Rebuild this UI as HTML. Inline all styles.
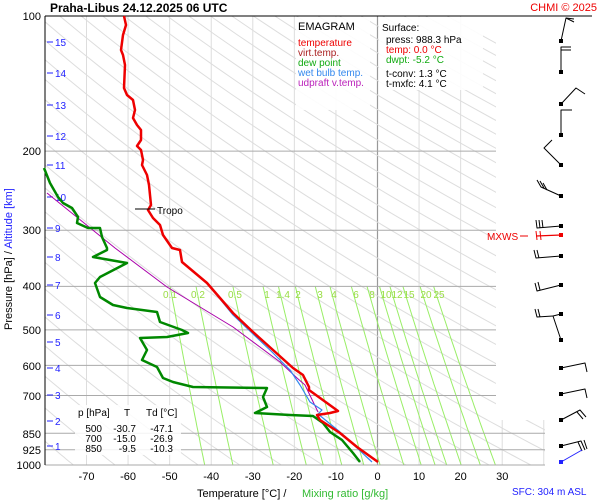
<!DOCTYPE html>
<html><head><meta charset="utf-8"><style>
body{margin:0;background:#fff}
svg{display:block;font-family:"Liberation Sans",sans-serif}
</style></head><body>
<svg id="s" width="600" height="500" viewBox="0 0 600 500" xmlns="http://www.w3.org/2000/svg">
<rect width="600" height="500" fill="#fff"/>
<defs><clipPath id="c"><rect x="45" y="16" width="451" height="449"/><rect x="45" y="420" width="500" height="45"/></clipPath></defs>
<g id="bg" clip-path="url(#c)"></g>
<g id="fg"></g>
</svg>
<script>
const NS="http://www.w3.org/2000/svg";
const bg=document.getElementById('bg'),fg=document.getElementById('fg');
function el(p,t,a,txt){const e=document.createElementNS(NS,t);for(const k in a)e.setAttribute(k,a[k]);if(txt!==undefined)e.textContent=txt;p.appendChild(e);return e;}
const X=T=>377.5+T*4.157, Y=p=>16+Math.log10(p/100)*449;
for(let T=-80;T<=40;T+=10){el(bg,'line',{x1:X(T),y1:16,x2:X(T),y2:465,stroke:T==0?'#999':'#ddd','stroke-width':T==0?1.2:1});}
for(let th=200;th<=560;th+=10){let pts=[];for(let p=100;p<=1000;p+=10){pts.push(X(th*Math.pow(p/1000,0.286)-273.15).toFixed(1)+','+Y(p).toFixed(1));}
el(bg,'polyline',{points:pts.join(' '),fill:'none',stroke:'#ddd','stroke-width':1});}
const ws=[0.1,0.2,0.5,1,1.4,2,3,4,6,8,10,12,15,20,25];
ws.forEach(w=>{let pts=[];for(let p=400;p<=1000;p+=20){let e=w*p/(622+w),l=Math.log(e/6.112);let Td=243.5*l/(17.67-l);pts.push(X(Td).toFixed(1)+','+Y(p).toFixed(1));}
el(bg,'polyline',{points:pts.join(' '),fill:'none',stroke:'#9e6','stroke-width':1});});
[200,300,400,500,600,700].forEach(p=>el(fg,'line',{x1:45,y1:Y(p),x2:496,y2:Y(p),stroke:'#aaa'}));
[850,925,1000].forEach(p=>el(fg,'line',{x1:45,y1:Y(p),x2:545,y2:Y(p),stroke:'#aaa'}));
el(fg,'line',{x1:45,y1:16,x2:592,y2:16,stroke:'#000'});
el(fg,'line',{x1:45,y1:16,x2:45,y2:465,stroke:'#000'});
const ml=[[170,'0.1'],[198,'0.2'],[235,'0.5'],[267,'1'],[283,'1.4'],[298,'2'],[320,'3'],[334,'4'],[356,'6'],[372,'8'],[386,'10'],[397,'12'],[409,'15'],[426,'20'],[439,'25']];
ml.forEach(m=>el(fg,'text',{x:m[0],y:298,'font-size':10,fill:'#9d4','text-anchor':'middle'},m[1]));
el(fg,'rect',{x:296,y:17,width:74,height:93,fill:'#fff','fill-opacity':0.9});
el(fg,'rect',{x:379,y:17,width:104,height:73,fill:'#fff','fill-opacity':0.9});
el(fg,'rect',{x:75,y:405,width:106,height:50,fill:'#fff','fill-opacity':0.85});
const L=[[298,30,'#000','EMAGRAM',11],[298,46,'#e00','temperature',10],[298,56,'#a22','virt.temp.',10],[298,66,'#1a1','dew point',10],[298,76,'#38e','wet bulb temp.',10],[298,86,'#b2b','udpraft v.temp.',10],
[382,31,'#000','Surface:',10],[386,43,'#000','press: 988.3 hPa',10],[386,53,'#e00','temp: 0.0 °C',10],[386,63,'#1a1','dwpt: -5.2 °C',10],[386,77,'#000','t-conv: 1.3 °C',10],[386,87,'#000','t-mxfc: 4.1 °C',10]];
L.forEach(l=>el(fg,'text',{x:l[0],y:l[1],fill:l[2],'font-size':l[4]},l[3]));
[[78,416,'p [hPa]'],[124,416,'T'],[146,416,'Td [°C]']].forEach(t=>el(fg,'text',{x:t[0],y:t[1],'font-size':10},t[2]));
[[432,'500','-30.7','-47.1'],[442,'700','-15.0','-26.9'],[452,'850','-9.5','-10.3']].forEach(r=>{el(fg,'text',{x:102,y:r[0],'font-size':10,'text-anchor':'end'},r[1]);el(fg,'text',{x:136,y:r[0],'font-size':10,'text-anchor':'end'},r[2]);el(fg,'text',{x:173,y:r[0],'font-size':10,'text-anchor':'end'},r[3]);});
[[100,16],[200,151],[300,230],[400,286],[500,330],[600,366],[700,396],[850,434],[925,450],[1000,465]].forEach(a=>el(fg,'text',{x:41,y:a[1]+4,'font-size':11,'text-anchor':'end'},a[0]));
[[1,446],[2,421],[3,395],[4,368],[5,342],[6,315],[7,285],[8,257],[9,228],[10,197],[11,165],[12,136],[13,105],[14,73],[15,42]].forEach(a=>{el(fg,'line',{x1:47,y1:a[1],x2:53,y2:a[1],stroke:'#22f'});el(fg,'text',{x:55,y:a[1]+4,'font-size':10,fill:'#22f'},a[0]);});
for(let T=-70;T<=30;T+=10)el(fg,'text',{x:X(T),y:480,'font-size':11,'text-anchor':'middle'},T);
el(fg,'text',{x:197,y:497,'font-size':11},'Temperature [°C]  /');
el(fg,'text',{x:302,y:497,'font-size':11,fill:'#3b3'},'Mixing ratio [g/kg]');
el(fg,'text',{x:512,y:495,'font-size':10,fill:'#22f'},'SFC: 304 m ASL');
el(fg,'text',{x:50,y:12,'font-size':12,'font-weight':'bold'},'Praha-Libus    24.12.2025 06 UTC').setAttribute('xml:space','preserve');
el(fg,'text',{x:597,y:11,'font-size':11,fill:'#e00','text-anchor':'end'},'CHMI © 2025');
const yl=el(fg,'text',{transform:'translate(12,330) rotate(-90)','font-size':11},'');
el(yl,'tspan',{},'Pressure [hPa]  /  ');el(yl,'tspan',{fill:'#22f'},'Altitude [km]');
function pl(pts,c,w){el(fg,'polyline',{points:pts.map(p=>p.join(',')).join(' '),fill:'none',stroke:c,'stroke-width':w,'stroke-linejoin':'round'});}
pl([[47,193],[115,248],[167,287],[233,327],[280,362],[297,378],[305,385],[318,412]],'#a0a',1);
pl([[182,262],[207,283],[233,315],[253,334],[272,352],[290,370],[300,385],[310,402],[322,410],[318,414],[340,432],[357,448],[372,462]],'#38e',1.2);
pl([[44,168],[50,183],[58,197],[63,203],[72,208],[78,217],[77,223],[88,228],[100,228],[102,237],[107,248],[107,250],[93,257],[127,263],[100,277],[95,283],[100,297],[113,305],[127,308],[157,312],[160,322],[182,330],[188,333],[167,337],[140,338],[147,350],[142,360],[157,367],[163,378],[173,382],[193,387],[267,388],[263,397],[267,407],[255,413],[290,415],[313,416],[323,423],[330,432],[342,440],[353,453],[360,462]],'#080',2.5);
pl([[124,16],[126,25],[123,35],[121,50],[123,55],[125,65],[124,88],[127,95],[133,100],[135,110],[133,118],[137,125],[141,130],[141,140],[137,146],[141,150],[143,160],[142,165],[147,175],[149,185],[150,195],[151,205],[148,210],[153,218],[160,225],[163,235],[172,248],[180,250],[182,262],[207,283],[233,313],[253,332],[273,350],[293,368],[303,375],[309,387],[309,390],[338,411],[330,413],[317,415],[320,420],[340,433],[357,447],[378,462]],'#e00',2.5);
el(fg,'line',{x1:135,y1:209,x2:155,y2:209,stroke:'#000'});
el(fg,'text',{x:157,y:214,'font-size':10},'Tropo');
// wind barbs: [dotY, polyline points]
const B=[
[41,[[561,41],[566,18],[574,19]],[[566,18],[574,22]]],
[72,[[561,72],[561,47],[571,47]],[[561,50],[571,50]]],
[104,[[561,104],[576,88],[585,94]]],
[135,[[561,135],[561,110],[572,110]]],
[165,[[561,165],[544,148],[552,140]]],
[196,[[561,196],[541,187],[537,180]],[[544,188],[540,181]],[[547,190],[543,183]]],
[226,[[561,226],[537,228],[536,220]],[[540,228],[539,220]],[[543,228],[542,220]]],
[256,[[561,256],[536,258],[534,250]],[[539,258],[537,250]]],
[285,[[561,285],[537,291],[535,283]],[[540,290],[538,282]]],
[314,[[561,314],[553,316],[561,340]],[[553,316],[537,317],[535,309]],[[540,317],[538,309]]],
[340,[[561,340],[561,340]]],
[368,[[561,368],[585,363],[587,372]]],
[394,[[561,394],[585,389],[587,398]]],
[420,[[561,420],[580,410],[586,417]],[[577,412],[583,419]]],
[446,[[561,446],[581,441],[585,450]],[[578,442],[582,451]],[[584,440],[587,449]]]
];
B.forEach(b=>{el(fg,'rect',{x:559,y:b[0]-2,width:4,height:4,fill:'#000'});for(let i=1;i<b.length;i++)pl(b[i],'#000',1);});
el(fg,'line',{x1:520,y1:236,x2:528,y2:236,stroke:'#e00'});
pl([[536,236],[561,235]],'#e00',1.2);pl([[536,231],[537,240]],'#e00',1);pl([[540,231],[541,240]],'#e00',1);
el(fg,'rect',{x:559,y:233,width:4,height:4,fill:'#e00'});
el(fg,'text',{x:487,y:240,'font-size':10,fill:'#e00'},'MXWS');
el(fg,'rect',{x:559,y:460,width:4,height:4,fill:'#22f'});
el(fg,'line',{x1:561,y1:462,x2:582,y2:450,stroke:'#22f'});
</script>
</body></html>
